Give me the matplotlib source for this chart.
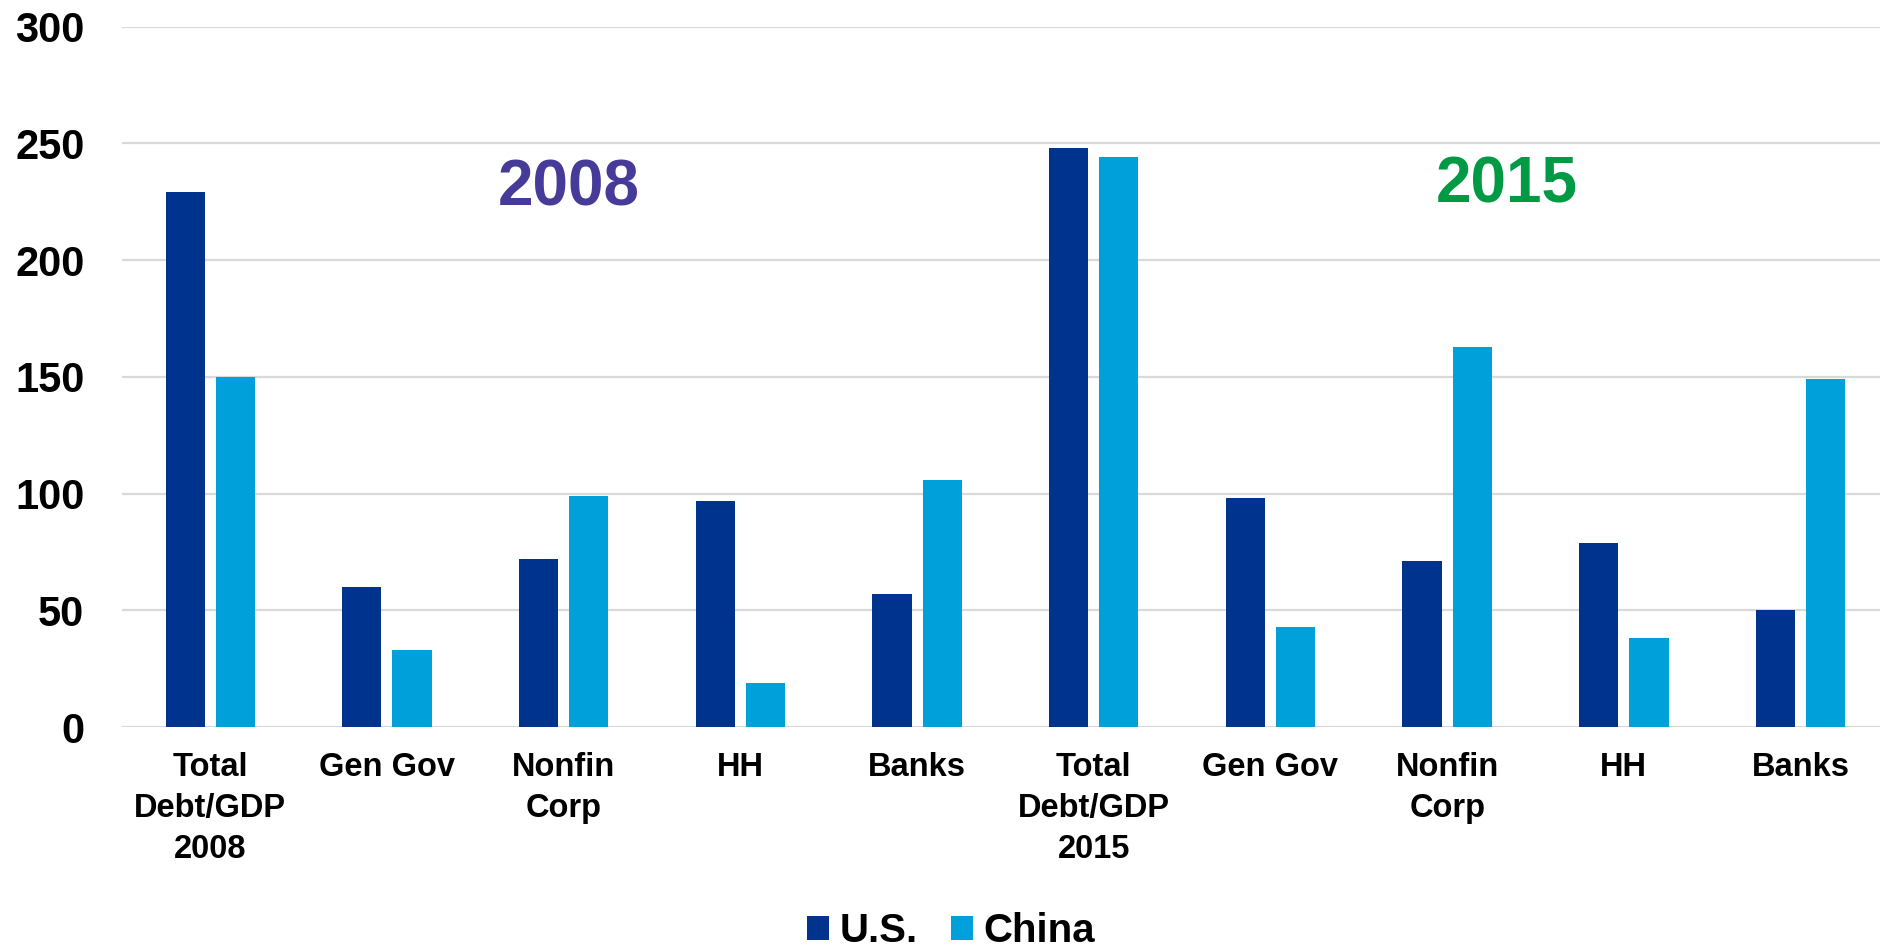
import matplotlib
matplotlib.use("Agg")
import matplotlib.pyplot as plt
import numpy as np
from matplotlib.patches import Patch

categories = ["Total\nDebt/GDP\n2008", "Gen Gov", "Nonfin\nCorp", "HH", "Banks",
              "Total\nDebt/GDP\n2015", "Gen Gov", "Nonfin\nCorp", "HH", "Banks"]
us_values = [229, 60, 72, 97, 57, 248, 98, 71, 79, 50]
china_values = [150, 33, 99, 19, 106, 244, 43, 163, 38, 149]
series_names = ["U.S.", "China"]
y_ticks = [0, 50, 100, 150, 200, 250, 300]

US_COLOR = "#00338D"
CHINA_COLOR = "#00A0DA"
GRID_COLOR = "#D9D9D9"

plt.rcParams["font.family"] = ["Liberation Sans", "DejaVu Sans"]
plt.rcParams["font.weight"] = "bold"

fig = plt.figure(figsize=(18.81, 9.52), dpi=100)
ax = fig.add_axes([0.0648, 0.2363, 0.9394, 0.7356])

x = np.arange(len(categories))
bar_w = 0.222
offset = 0.142
ax.bar(x - offset, us_values, width=bar_w, color=US_COLOR, zorder=3)
ax.bar(x + offset, china_values, width=bar_w, color=CHINA_COLOR, zorder=3)

ax.set_xlim(-0.5, len(categories) - 0.5)
ax.set_ylim(0, 300)
ax.set_yticks(y_ticks)
ax.set_yticklabels([str(v) for v in y_ticks], fontsize=30, fontweight="bold")
ax.set_xticks(x)
ax.set_xticklabels(categories, fontsize=23.5, fontweight="bold", linespacing=1.42)
ax.tick_params(axis="both", length=0)
ax.tick_params(axis="y", pad=27)
ax.tick_params(axis="x", pad=18)

ax.yaxis.grid(True, color=GRID_COLOR, linewidth=1.6, zorder=0)
ax.set_axisbelow(True)
for side in ["left", "right", "top", "bottom"]:
    ax.spines[side].set_visible(False)

ax.text(2.03, 223.3, "2008", ha="center", va="baseline", fontsize=46,
        fontweight="bold", color="#473B99")
ax.text(7.34, 224.6, "2015", ha="center", va="baseline", fontsize=46,
        fontweight="bold", color="#009944")

handles = [Patch(facecolor=US_COLOR), Patch(facecolor=CHINA_COLOR)]
fig.legend(handles, series_names, loc="center", bbox_to_anchor=(0.5056, 0.022),
           ncol=2, frameon=False, prop={"size": 29, "weight": "bold"},
           handlelength=0.55, handleheight=0.55, handletextpad=0.27,
           columnspacing=0.82, borderpad=0, borderaxespad=0)

fig.savefig("out.png", dpi=100, facecolor="white")
